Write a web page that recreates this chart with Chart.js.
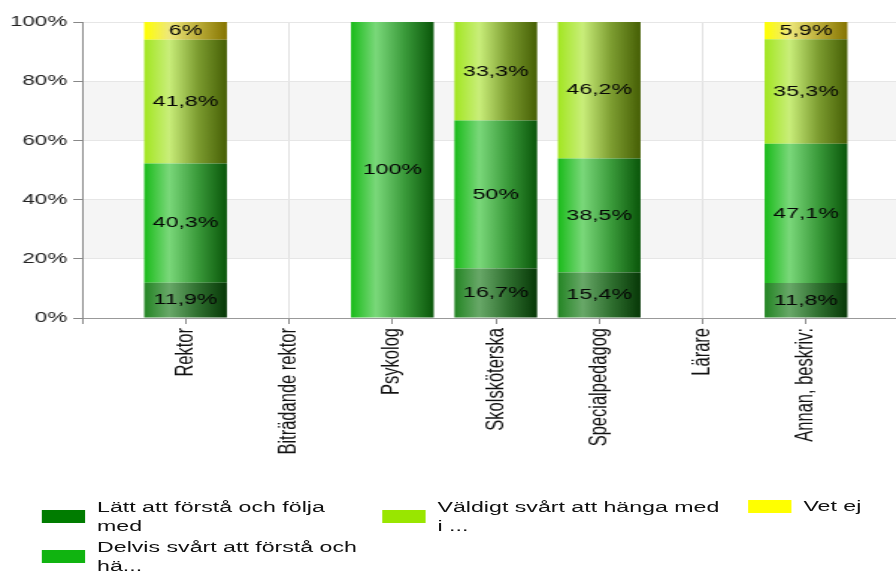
<!DOCTYPE html>
<html>
<head>
<meta charset="utf-8">
<script src="https://cdn.jsdelivr.net/npm/chart.js@4"></script>
<style>
  html, body { margin: 0; padding: 0; background: #fff; overflow: hidden; }
  #wrap { position: relative; width: 609px; height: 572px; transform: scaleX(1.4933); transform-origin: 0 0; }
  #chart { position: absolute; left: 0; top: 0; }
  .item { position: absolute; display: flex; align-items: center; font: 15.5px "Liberation Sans", Arial, sans-serif; color: #111; line-height: 18.5px; }
  .sw { width: 29px; height: 13px; margin-right: 8px; flex: none; }
</style>
</head>
<body>
<div id="wrap">
  <canvas id="chart" width="609" height="480"></canvas>
  <div id="legend"></div>
</div>
<script>
// categories and values (percent)
const categories = ['Rektor', 'Biträdande rektor', 'Psykolog', 'Skolsköterska', 'Specialpedagog', 'Lärare', 'Annan, beskriv:'];
const seriesNames = ['Lätt att förstå och följa med', 'Delvis svårt att förstå och hä...', 'Väldigt svårt att hänga med i ...', 'Vet ej'];
const lattAtt   = [11.9, null, null, 16.7, 15.4, null, 11.8];
const delvis    = [40.3, null, 100, 50, 38.5, null, 47.1];
const valdigt   = [41.8, null, null, 33.3, 46.2, null, 35.3];
const vetEj     = [6, null, null, null, null, null, 5.9];
const yTicks = [0, 20, 40, 60, 80, 100];

const legendColors = ['#007c00', '#10b410', '#99e600', '#ffff00'];
const gradStops = [
  ['#238523', '#68a868', '#2f6f2f', '#073807'],
  ['#19bb19', '#7ad87a', '#3a9a3a', '#0a560a'],
  ['#a2e620', '#c9ee7a', '#7c9c30', '#465f05'],
  ['#ffff00', '#eee87c', '#bcae3a', '#857400']
];

// one empty slot before and after so the axis starts/ends a step away
const labels = [''].concat(categories, ['']);
function pad(arr) { return [null].concat(arr, [null]); }

function barFill(i) {
  const s = gradStops[i];
  return function (ctx) {
    const chart = ctx.chart;
    const x = chart.scales && chart.scales.x;
    if (!chart.chartArea || !x || ctx.dataIndex == null) return s[0];
    const cx = x.getPixelForValue(ctx.dataIndex);
    const half = (x.getPixelForValue(1) - x.getPixelForValue(0)) * 0.8 / 2;
    const g = chart.ctx.createLinearGradient(cx - half, 0, cx + half, 0);
    g.addColorStop(0, s[0]);
    g.addColorStop(0.3, s[1]);
    g.addColorStop(0.65, s[2]);
    g.addColorStop(1, s[3]);
    return g;
  };
}

const allData = [lattAtt, delvis, valdigt, vetEj];
const datasets = allData.map(function (d, i) {
  return {
    label: seriesNames[i],
    data: pad(d),
    backgroundColor: barFill(i),
    borderWidth: 0,
    categoryPercentage: 1,
    barPercentage: 0.8
  };
});

const bands = {
  id: 'bands',
  beforeDraw(chart) {
    const y = chart.scales.y, a = chart.chartArea, c = chart.ctx;
    c.save();
    c.fillStyle = '#f5f5f5';
    [[20, 40], [60, 80]].forEach(function (b) {
      const t = y.getPixelForValue(b[1]), btm = y.getPixelForValue(b[0]);
      c.fillRect(a.left, t, a.right - a.left, btm - t);
    });
    c.restore();
  }
};

const valueLabels = {
  id: 'valueLabels',
  afterDatasetsDraw(chart) {
    const c = chart.ctx;
    c.save();
    c.font = '15.5px "Liberation Sans", Arial, sans-serif';
    c.fillStyle = '#050505';
    c.textAlign = 'center';
    c.textBaseline = 'middle';
    chart.data.datasets.forEach(function (ds, di) {
      chart.getDatasetMeta(di).data.forEach(function (bar, i) {
        const v = ds.data[i];
        if (v == null) return;
        c.fillText(String(v).replace('.', ',') + '%', bar.x, (bar.y + bar.base) / 2);
      });
    });
    c.restore();
  }
};

new Chart(document.getElementById('chart'), {
  type: 'bar',
  data: { labels: labels, datasets: datasets },
  plugins: [bands, valueLabels],
  options: {
    responsive: false,
    animation: false,
    layout: { padding: { top: 22, right: 0, bottom: 0, left: 0 } },
    plugins: { legend: { display: false }, tooltip: { enabled: false } },
    scales: {
      x: {
        stacked: true,
        offset: false,
        grid: { offset: false, color: '#e2e2e2', tickLength: 6, tickColor: '#888' },
        border: { color: '#999' },
        ticks: {
          autoSkip: false, minRotation: 90, maxRotation: 90, padding: 4,
          color: '#111', font: { family: '"Liberation Sans", Arial, sans-serif', size: 16.5 }
        },
        afterFit(s) { s.height = 480 - 318; s.paddingLeft = 0; s.paddingRight = 0; }
      },
      y: {
        stacked: true,
        min: 0, max: 100,
        afterBuildTicks(s) { s.ticks = yTicks.map(function (v) { return { value: v }; }); },
        grid: { color: '#e6e6e6', tickLength: 6, tickColor: '#888' },
        border: { color: '#888' },
        ticks: {
          padding: 4, color: '#222',
          font: { family: '"Liberation Sans", Arial, sans-serif', size: 15 },
          callback: function (v) { return v + '%'; }
        },
        afterFit(s) { s.width = 55; }
      }
    }
  }
});

// legend (html, same stretched container)
const legendPos = [
  { left: 28, top: 498, width: 178 },
  { left: 28, top: 538, width: 178 },
  { left: 256, top: 498, width: 192 },
  { left: 501, top: 497, width: 80 }
];
const lg = document.getElementById('legend');
seriesNames.forEach(function (name, i) {
  const p = legendPos[i];
  const el = document.createElement('div');
  el.className = 'item';
  el.style.left = p.left + 'px';
  el.style.top = p.top + 'px';
  el.innerHTML = '<span class="sw" style="background:' + legendColors[i] + '"></span><span style="width:' + p.width + 'px">' + name + '</span>';
  lg.appendChild(el);
});
</script>
</body>
</html>
